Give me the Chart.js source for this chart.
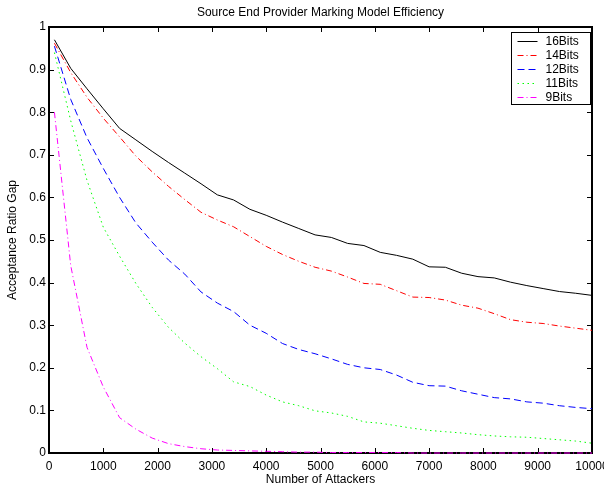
<!DOCTYPE html>
<html>
<head>
<meta charset="utf-8">
<script src="https://cdn.jsdelivr.net/npm/chart.js@4.4.0/dist/chart.umd.min.js"></script>
<style>
  html, body { margin: 0; padding: 0; background: #fff; overflow: hidden; }
  canvas { display: block; }
</style>
</head>
<body>
<canvas id="grafico" width="604" height="489"></canvas>
<script>
// valores (eixo x = número de atacantes)
const attackers = [100, 400, 700, 1000, 1300, 1600, 1900, 2200, 2500, 2800,
  3100, 3400, 3700, 4000, 4300, 4600, 4900, 5200, 5500, 5800,
  6100, 6400, 6700, 7000, 7300, 7600, 7900, 8200, 8500, 8800,
  9100, 9400, 9700, 10000];

const bits16 = [0.970, 0.903, 0.855, 0.808, 0.762, 0.735, 0.708, 0.682, 0.657, 0.632,
  0.606, 0.594, 0.572, 0.558, 0.542, 0.527, 0.512, 0.506, 0.492, 0.487,
  0.471, 0.464, 0.455, 0.437, 0.436, 0.422, 0.414, 0.411, 0.401, 0.393,
  0.386, 0.379, 0.375, 0.370];
const bits14 = [0.962, 0.893, 0.835, 0.786, 0.742, 0.697, 0.660, 0.626, 0.595, 0.565,
  0.547, 0.531, 0.508, 0.485, 0.466, 0.450, 0.436, 0.427, 0.413, 0.398,
  0.396, 0.381, 0.366, 0.365, 0.359, 0.347, 0.340, 0.327, 0.313, 0.307,
  0.304, 0.298, 0.293, 0.288];
const bits12 = [0.955, 0.830, 0.740, 0.668, 0.600, 0.540, 0.495, 0.453, 0.420, 0.378,
  0.352, 0.332, 0.300, 0.281, 0.257, 0.243, 0.233, 0.221, 0.208, 0.200,
  0.196, 0.183, 0.166, 0.158, 0.157, 0.146, 0.138, 0.130, 0.127, 0.120,
  0.117, 0.111, 0.107, 0.104];
const bits11 = [0.940, 0.780, 0.640, 0.530, 0.462, 0.398, 0.342, 0.295, 0.258, 0.226,
  0.198, 0.167, 0.156, 0.136, 0.120, 0.111, 0.099, 0.094, 0.086, 0.073,
  0.070, 0.064, 0.058, 0.053, 0.050, 0.047, 0.043, 0.040, 0.038, 0.037,
  0.034, 0.031, 0.028, 0.023];
const bits9 = [0.800, 0.440, 0.248, 0.155, 0.083, 0.056, 0.035, 0.022, 0.015, 0.010,
  0.007, 0.006, 0.005, 0.004, 0.003, 0.002, 0.002, 0.001, 0.001, 0.001,
  0.001, 0.001, 0, 0, 0, 0, 0, 0, 0, 0,
  0, 0, 0, 0];

const seriesNames = ['16Bits', '14Bits', '12Bits', '11Bits', '9Bits'];
const xTicks = [0, 1000, 2000, 3000, 4000, 5000, 6000, 7000, 8000, 9000, 10000];
const yTicks = [0, 0.1, 0.2, 0.3, 0.4, 0.5, 0.6, 0.7, 0.8, 0.9, 1];

const cores = ['#000000', '#ff0000', '#0000ff', '#00ff00', '#ff00ff'];
const tracos = [[], [6, 3, 1, 3], [7, 4], [1.5, 3.5], [6, 3, 1, 3]];

const FONTE = '"Liberation Sans", Arial, Helvetica, sans-serif';
Chart.defaults.font.family = FONTE;
Chart.defaults.font.size = 12;
Chart.defaults.color = '#000';

function pontos(valores) {
  return attackers.map((x, i) => ({ x: x, y: valores[i] }));
}

// moldura com marcas de escala para dentro (estilo matlab)
const moldura = {
  id: 'moldura',
  beforeDatasetsDraw(chart) {
    const { ctx, chartArea: a, scales: { x, y } } = chart;
    ctx.save();
    ctx.strokeStyle = '#000';
    ctx.lineWidth = 1;
    ctx.beginPath();
    xTicks.forEach(v => {
      const px = Math.round(x.getPixelForValue(v)) + 0.5;
      ctx.moveTo(px, a.bottom); ctx.lineTo(px, a.bottom - 5);
      ctx.moveTo(px, a.top); ctx.lineTo(px, a.top + 5);
    });
    yTicks.forEach(v => {
      const py = Math.round(y.getPixelForValue(v)) + 0.5;
      ctx.moveTo(a.left, py); ctx.lineTo(a.left + 5, py);
      ctx.moveTo(a.right, py); ctx.lineTo(a.right - 5, py);
    });
    ctx.stroke();
    ctx.lineWidth = 2;
    ctx.strokeRect(a.left, a.top, a.right - a.left, a.bottom - a.top);
    ctx.restore();
  }
};

const legenda = {
  id: 'legenda',
  afterDraw(chart) {
    const { ctx, chartArea: a } = chart;
    const w = 79, h = 72;
    const left = Math.round(a.right - 2 - w) + 0.5, top = Math.round(a.top + 5) + 0.5;
    ctx.save();
    ctx.fillStyle = '#fff';
    ctx.fillRect(left, top, w, h);
    ctx.strokeStyle = '#000';
    ctx.lineWidth = 1;
    ctx.strokeRect(left, top, w, h);
    ctx.font = '12px ' + FONTE;
    ctx.textBaseline = 'middle';
    seriesNames.forEach((nome, i) => {
      const yy = Math.round(top + 8.5 + i * 13.9) + 0.5;
      ctx.strokeStyle = cores[i];
      ctx.lineWidth = 1;
      ctx.setLineDash(tracos[i]);
      ctx.beginPath();
      ctx.moveTo(left + 6, yy);
      ctx.lineTo(left + 26, yy);
      ctx.stroke();
      ctx.setLineDash([]);
      ctx.fillStyle = '#000';
      ctx.fillText(nome, left + 34, yy);
    });
    ctx.restore();
  }
};

function serie(i, valores) {
  return {
    label: seriesNames[i],
    data: pontos(valores),
    borderColor: cores[i],
    borderWidth: 1,
    borderDash: tracos[i],
    pointRadius: 0,
    tension: 0,
    fill: false,
    clip: false
  };
}

new Chart(document.getElementById('grafico'), {
  type: 'line',
  data: {
    datasets: [
      serie(0, bits16),
      serie(1, bits14),
      serie(2, bits12),
      serie(3, bits11),
      serie(4, bits9)
    ]
  },
  options: {
    responsive: false,
    animation: false,
    layout: { padding: { left: 0, right: 12, top: 0, bottom: 0 } },
    plugins: {
      legend: { display: false },
      tooltip: { enabled: false },
      title: {
        display: true,
        text: 'Source End Provider Marking Model Efficiency',
        fullSize: false,
        color: '#000',
        font: { size: 12, weight: 'normal' },
        padding: { top: 5, bottom: 7.6 }
      }
    },
    scales: {
      x: {
        type: 'linear',
        min: 0,
        max: 10000,
        afterBuildTicks: s => { s.ticks = xTicks.map(v => ({ value: v })); },
        afterFit: s => { s.height = 36; s.paddingLeft = 0; s.paddingRight = 0; },
        ticks: { callback: v => String(v), maxRotation: 0, autoSkip: false, padding: 6, color: '#000' },
        grid: { display: false, drawTicks: false },
        border: { display: false },
        title: { display: true, text: 'Number of Attackers', color: '#000', padding: { top: 0, bottom: 2 } }
      },
      y: {
        min: 0,
        max: 1,
        afterBuildTicks: s => { s.ticks = yTicks.map(v => ({ value: v })); },
        afterFit: s => { s.width = 49; },
        ticks: { callback: v => String(Math.round(v * 10) / 10), autoSkip: false, padding: 3, color: '#000' },
        grid: { display: false, drawTicks: false },
        border: { display: false },
        title: { display: true, text: 'Acceptance Ratio Gap', color: '#000', padding: { top: 5.5, bottom: 0 } }
      }
    }
  },
  plugins: [moldura, legenda]
});
</script>
</body>
</html>
